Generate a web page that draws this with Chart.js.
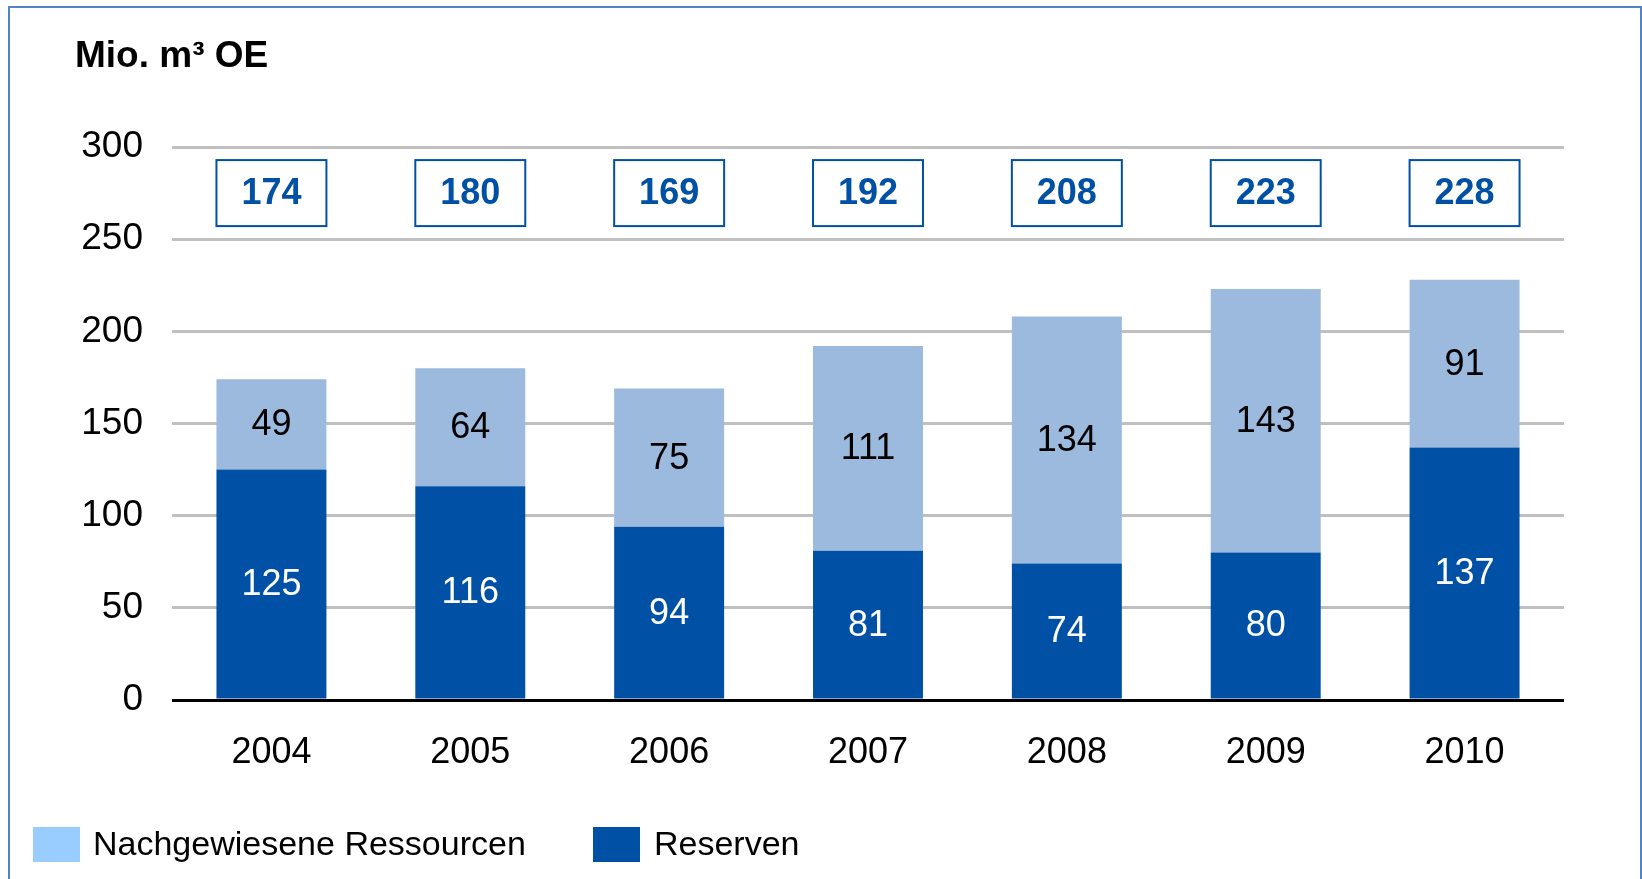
<!DOCTYPE html>
<html lang="de">
<head>
<meta charset="utf-8">
<title>Reserven und Ressourcen</title>
<script src="https://cdn.jsdelivr.net/npm/chart.js@4.4.1/dist/chart.umd.min.js"></script>
<style>
  html, body { margin: 0; padding: 0; background: #fff; overflow: hidden; }
  #chart { display: block; }
</style>
</head>
<body>
<canvas id="chart" width="1642" height="879"></canvas>
<script>

// DATA PART

var years = ['2004', '2005', '2006', '2007', '2008', '2009', '2010'];
var reserven = [125, 116, 94, 81, 74, 80, 137];
var ressourcen = [49, 64, 75, 111, 134, 143, 91];
var totals = [174, 180, 169, 192, 208, 223, 228];
var yMin = 0;
var yMax = 300;
var yStep = 50;
var unitLabel = 'Mio. m³ OE';
var legendLabels = ['Nachgewiesene Ressourcen', 'Reserven'];

// STYLE PART

var FONT = '"Liberation Sans", Arial, Helvetica, sans-serif';
var darkBlue = '#0051a5';
var lightBlue = '#9bbadd';
var legendLight = '#99ccff';
var legendDark = '#0050a6';
var frameColor = '#4f85c6';

Chart.defaults.font.family = FONT;
Chart.defaults.color = '#000';

// PLUGINS PART

var framePlugin = {
    id: 'frame',
    beforeDraw: (chart) => {
        var ctx = chart.ctx;
        ctx.save();
        ctx.fillStyle = '#fff';
        ctx.fillRect(0, 0, chart.width, chart.height);
        ctx.strokeStyle = frameColor;
        ctx.lineWidth = 2;
        ctx.strokeRect(9, 7, chart.width - 10, chart.height + 20);

        // unit title
        ctx.fillStyle = '#000';
        ctx.font = 'bold 37px ' + FONT;
        ctx.textBaseline = 'middle';
        ctx.textAlign = 'left';
        ctx.fillText(unitLabel, 75, 57);
        ctx.restore();
    }
};

var labelsPlugin = {
    id: 'segLabels',
    afterDatasetsDraw: (chart) => {
        var ctx = chart.ctx;
        ctx.save();
        ctx.font = '36px ' + FONT;
        ctx.textAlign = 'center';
        ctx.textBaseline = 'middle';
        chart.data.datasets.forEach((ds, i) => {
            var meta = chart.getDatasetMeta(i);
            meta.data.forEach((bar, j) => {
                ctx.fillStyle = i === 0 ? '#fff' : '#000';
                ctx.fillText(String(ds.data[j]), bar.x, (bar.y + bar.base) / 2 + 1);
            });
        });

        // totals boxes
        var yScale = chart.scales.y;
        var cy = yScale.getPixelForValue(275);
        var meta0 = chart.getDatasetMeta(0);
        ctx.font = 'bold 36px ' + FONT;
        meta0.data.forEach((bar, j) => {
            var w = bar.width;
            ctx.fillStyle = '#fff';
            ctx.fillRect(bar.x - w / 2, cy - 33, w, 66);
            ctx.strokeStyle = darkBlue;
            ctx.lineWidth = 2;
            ctx.strokeRect(bar.x - w / 2, cy - 33, w, 66);
            ctx.fillStyle = darkBlue;
            ctx.fillText(String(totals[j]), bar.x, cy + 1);
        });
        ctx.restore();
    }
};

var legendPlugin = {
    id: 'bottomLegend',
    afterDraw: (chart) => {
        var ctx = chart.ctx;
        ctx.save();
        ctx.font = '34px ' + FONT;
        ctx.textBaseline = 'middle';
        ctx.textAlign = 'left';

        ctx.fillStyle = legendLight;
        ctx.fillRect(33, 827, 47, 35);
        ctx.fillStyle = '#000';
        ctx.fillText(legendLabels[0], 93, 846);

        ctx.fillStyle = legendDark;
        ctx.fillRect(593, 827, 47, 35);
        ctx.fillStyle = '#000';
        ctx.fillText(legendLabels[1], 654, 846);
        ctx.restore();
    }
};

// CHART PART

var ctx = document.getElementById('chart').getContext('2d');
var myChart = new Chart(ctx, {
    type: 'bar',
    data: {
        labels: years,
        datasets: [{
            label: legendLabels[1],
            data: reserven,
            backgroundColor: darkBlue,
            borderWidth: 0
        }, {
            label: legendLabels[0],
            data: ressourcen,
            backgroundColor: lightBlue,
            borderWidth: 0
        }]
    },
    options: {
        responsive: false,
        animation: false,
        events: [],
        categoryPercentage: 1,
        barPercentage: 0.553,
        layout: {
            padding: { left: 0, top: 147, right: 78, bottom: 0 }
        },
        plugins: {
            legend: { display: false },
            tooltip: { enabled: false },
            title: { display: false }
        },
        scales: {
            x: {
                stacked: true,
                grid: { display: false },
                border: { display: false },
                ticks: {
                    font: { size: 36 },
                    color: '#000',
                    padding: 23,
                    maxRotation: 0
                },
                afterFit: (s) => { s.height = 179; }
            },
            y: {
                stacked: true,
                min: yMin,
                max: yMax,
                border: { display: false },
                grid: {
                    drawTicks: false,
                    lineWidth: 3,
                    color: (c) => c.tick && c.tick.value === 0 ? '#000' : '#c0c0c0'
                },
                ticks: {
                    stepSize: yStep,
                    font: { size: 37 },
                    color: '#000',
                    padding: 29
                },
                afterFit: (s) => { s.width = 172; }
            }
        }
    },
    plugins: [framePlugin, labelsPlugin, legendPlugin]
});

</script>
</body>
</html>
